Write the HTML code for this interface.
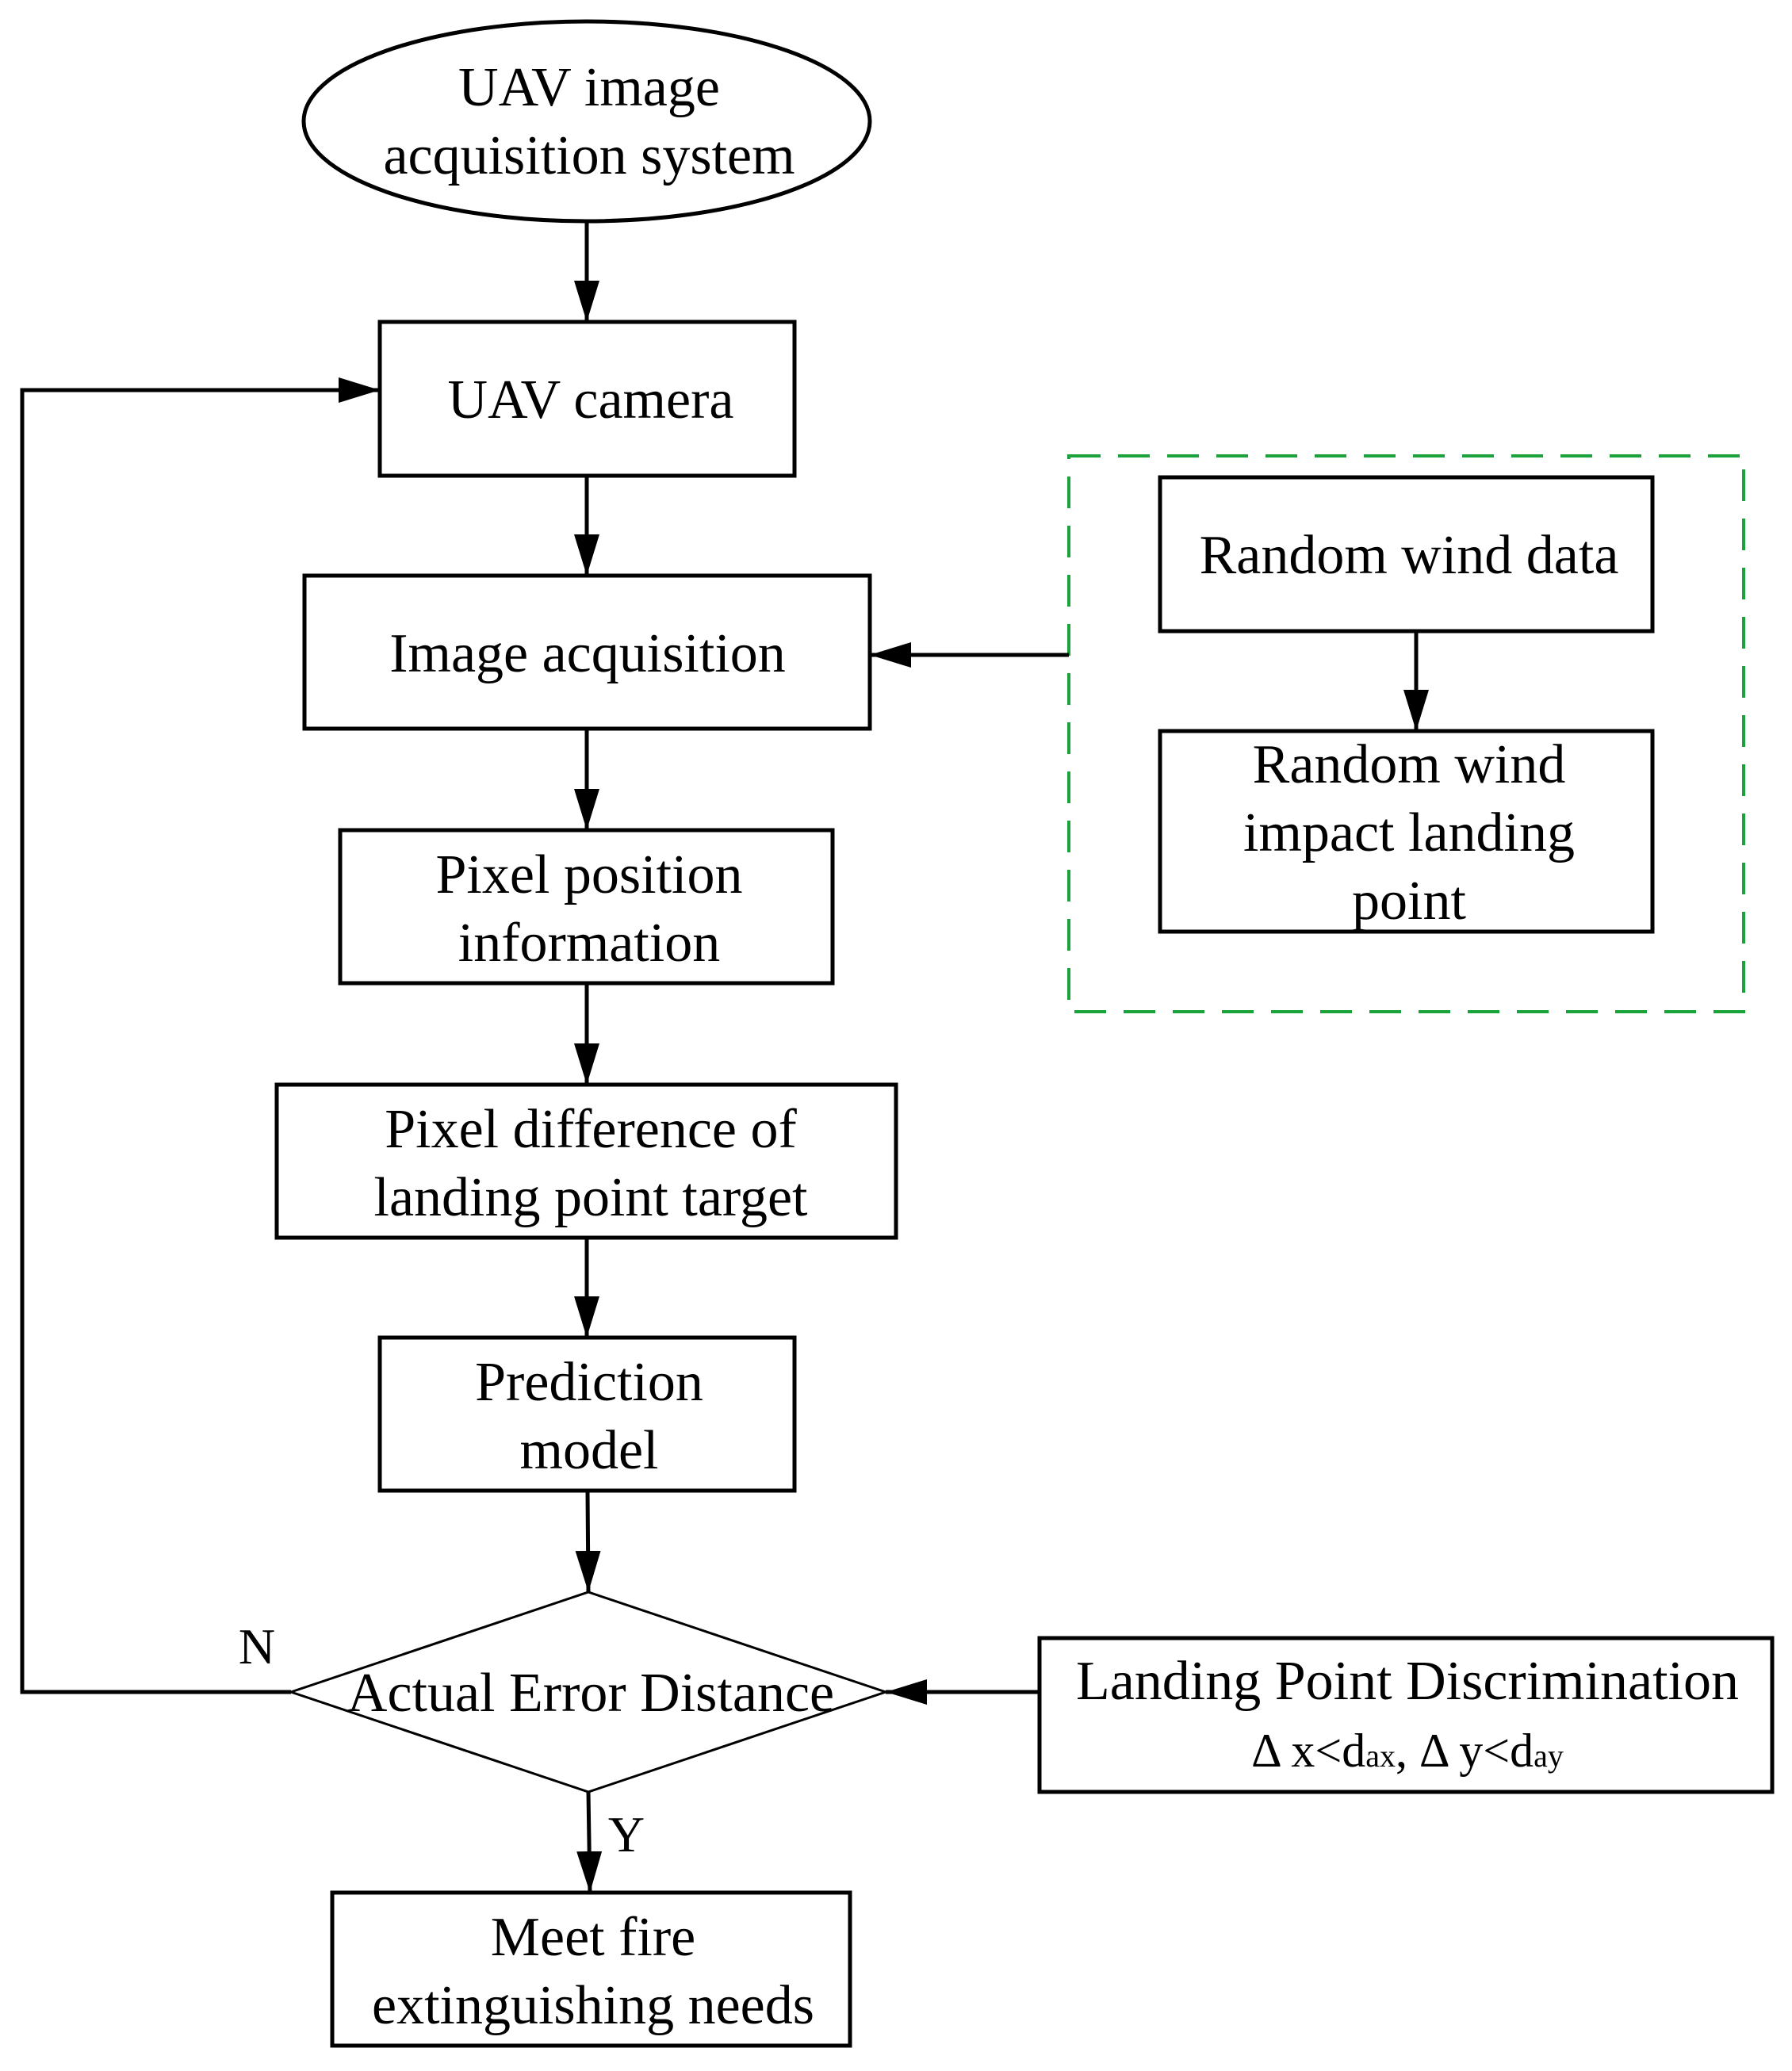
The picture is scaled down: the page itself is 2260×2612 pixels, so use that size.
<!DOCTYPE html>
<html><head><meta charset="utf-8"><style>html,body{margin:0;padding:0;background:#fff}</style></head>
<body>
<svg width="2260" height="2607" viewBox="0 0 2260 2607" xmlns="http://www.w3.org/2000/svg" font-family="Liberation Serif, serif" font-size="70" text-anchor="middle">
<defs>
<marker id="a" markerWidth="52" markerHeight="32" refX="52" refY="16" orient="auto" markerUnits="userSpaceOnUse"><path d="M0,0 L52,16 L0,32 z" fill="#000"/></marker>
</defs>
<g fill="none" stroke="#000" stroke-width="5">
<ellipse cx="740" cy="153" rx="357" ry="126"/>
<rect x="479" y="406" width="523" height="194"/>
<rect x="384" y="726" width="713" height="193"/>
<rect x="429" y="1047" width="621" height="193"/>
<rect x="349" y="1368" width="781" height="193"/>
<rect x="479" y="1687" width="523" height="193"/>
<rect x="419" y="2387" width="653" height="193"/>
<rect x="1311" y="2066" width="924" height="194"/>
<rect x="1463" y="602" width="621" height="194"/>
<rect x="1463" y="922" width="621" height="253"/>
<polygon points="367,2134 742,2008 1117,2134 742,2260" stroke-width="3"/>
<rect x="1348" y="575" width="851" height="701" stroke="#1aa33a" stroke-width="4" stroke-dasharray="40,22"/>
</g>
<g stroke="#000" stroke-width="5" fill="none">
<line x1="740" y1="279" x2="740" y2="406" marker-end="url(#a)"/>
<line x1="740" y1="600" x2="740" y2="726" marker-end="url(#a)"/>
<line x1="740" y1="919" x2="740" y2="1047" marker-end="url(#a)"/>
<line x1="740" y1="1240" x2="740" y2="1368" marker-end="url(#a)"/>
<line x1="740" y1="1561" x2="740" y2="1687" marker-end="url(#a)"/>
<line x1="741" y1="1880" x2="742" y2="2008" marker-end="url(#a)"/>
<line x1="742" y1="2260" x2="744" y2="2387" marker-end="url(#a)"/>
<line x1="1786" y1="796" x2="1786" y2="922" marker-end="url(#a)"/>
<line x1="1348" y1="826" x2="1097" y2="826" marker-end="url(#a)"/>
<line x1="1311" y1="2134" x2="1117" y2="2134" marker-end="url(#a)"/>
<polyline points="367,2134 28,2134 28,492 479,492" marker-end="url(#a)"/>
</g>
<g fill="#000">
<text x="743" y="133">UAV image</text>
<text x="743" y="219">acquisition system</text>
<text x="745" y="527">UAV camera</text>
<text x="741" y="847">Image acquisition</text>
<text x="743" y="1126">Pixel position</text>
<text x="743" y="1212">information</text>
<text x="745" y="1447">Pixel difference of</text>
<text x="745" y="1533">landing point target</text>
<text x="743" y="1766">Prediction</text>
<text x="743" y="1852">model</text>
<text x="745" y="2158">Actual Error Distance</text>
<text x="748" y="2466">Meet fire</text>
<text x="748" y="2552">extinguishing needs</text>
<text x="1777" y="723">Random wind data</text>
<text x="1777" y="987">Random wind</text>
<text x="1777" y="1073">impact landing</text>
<text x="1777" y="1159">point</text>
<text x="1775" y="2143">Landing Point Discrimination</text>
<text x="1775" y="2228" font-size="60">Δ x&lt;d<tspan font-size="40">ax</tspan>, Δ y&lt;d<tspan font-size="40">ay</tspan></text>
<text x="324" y="2098" font-size="64">N</text>
<text x="790" y="2335" font-size="64">Y</text>
</g>
</svg>
</body></html>
